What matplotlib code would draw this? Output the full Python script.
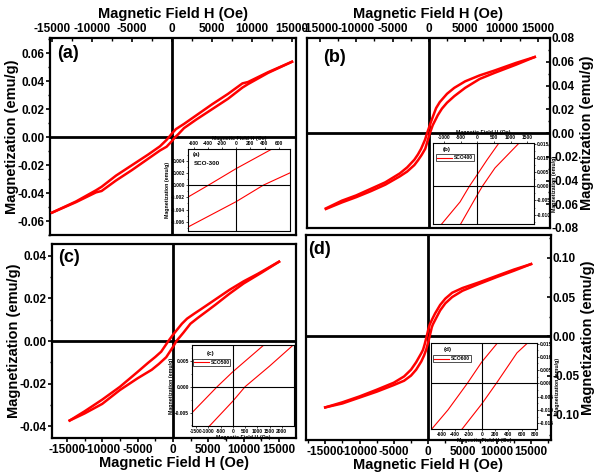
import matplotlib
matplotlib.use("Agg")
import matplotlib.pyplot as plt
from matplotlib.ticker import AutoMinorLocator, FormatStrFormatter

plt.rcParams['font.family'] = ['Liberation Sans', 'DejaVu Sans']
plt.rcParams['font.weight'] = 'bold'
plt.rcParams['axes.labelweight'] = 'bold'
plt.rcParams['axes.unicode_minus'] = False

# --------------------
# Data (H in Oe, M in emu/g)
# --------------------

# (a) SCO-300
h_down_a = [15000, 12000, 9500, 8800, 7000, 5000, 3000, 1500, 490, 0, -390, -672,
            -1500, -3000, -5000, -7000, -8800, -9500, -12000, -15000]
m_down_a = [0.054, 0.0465, 0.0395, 0.0385, 0.031, 0.0235, 0.0155, 0.0095, 0.0058, 0.0027, 0.0, -0.0019,
            -0.0065, -0.0125, -0.020, -0.0275, -0.0355, -0.038, -0.046, -0.054]
h_up_a = [-15000, -12000, -9500, -8800, -7000, -5000, -3000, -1500, -672, 0, 385, 760,
          1500, 3000, 5000, 7000, 8800, 9500, 12000, 15000]
m_up_a = [-0.054, -0.0465, -0.0395, -0.0385, -0.031, -0.0235, -0.0155, -0.0095, -0.0068, -0.0027, 0.0, 0.002,
          0.0065, 0.0125, 0.020, 0.0275, 0.0355, 0.038, 0.046, 0.054]

# (b)
h_down_b = [14600, 12000, 9000, 7000, 5000, 3500, 2500, 1500, 1000, 630, 300, 0, -240, -518,
            -1070, -1500, -2000, -3000, -4000, -6000, -8000, -10000, -12000, -14200]
m_down_b = [0.064, 0.059, 0.0525, 0.0485, 0.0435, 0.038, 0.033, 0.026, 0.021, 0.015, 0.0095, 0.0042, 0.0, -0.0055,
            -0.0133, -0.018, -0.0225, -0.029, -0.034, -0.0415, -0.047, -0.0525, -0.057, -0.0635]
h_up_b = [-14200, -12000, -10000, -8000, -6000, -4000, -3000, -2000, -1500, -1000, -500, 0, 150, 530,
          1230, 1800, 2500, 3500, 5000, 7000, 9000, 12000, 14600]
m_up_b = [-0.064, -0.0585, -0.054, -0.049, -0.0435, -0.0365, -0.0325, -0.027, -0.023, -0.0185, -0.0133, -0.0030, 0.0, 0.0065,
          0.015, 0.0205, 0.0255, 0.031, 0.038, 0.0455, 0.0505, 0.0575, 0.064]

# (c)
h_down_c = [15000, 12000, 10000, 8000, 6000, 4000, 3000, 2000, 1270, 0, -640, -1660,
            -2500, -3500, -5000, -7500, -10000, -12500, -14600]
m_down_c = [0.0372, 0.0315, 0.028, 0.024, 0.0195, 0.015, 0.0128, 0.0105, 0.0081, 0.0029, 0.0, -0.005,
            -0.0075, -0.0102, -0.0145, -0.0215, -0.0275, -0.033, -0.0373]
h_up_c = [-14600, -12500, -10000, -7500, -5000, -3000, -2000, -950, 0, 500, 1500,
          2470, 3500, 5000, 6000, 8000, 10000, 12500, 15000]
m_up_c = [-0.0373, -0.034, -0.0295, -0.023, -0.0175, -0.0135, -0.0108, -0.0076, -0.0028, 0.0, 0.0040,
          0.0081, 0.0108, 0.0145, 0.0170, 0.0222, 0.027, 0.032, 0.0372]

# (d)
h_down_d = [15000, 12500, 10000, 7500, 5000, 3500, 2500, 1750, 1000, 600, 230, 0, -215, -505,
            -745, -1000, -1750, -2500, -3500, -5000, -7500, -10000, -12500, -15000]
m_down_d = [0.092, 0.085, 0.077, 0.069, 0.0615, 0.0555, 0.048, 0.040, 0.029, 0.022, 0.015, 0.008, 0.0, -0.010,
            -0.0171, -0.0215, -0.033, -0.0425, -0.051, -0.059, -0.068, -0.0765, -0.084, -0.0905]
h_up_d = [-15000, -12500, -10000, -7500, -5000, -3500, -2500, -1750, -1000, -600, -290, 0, 220,
          530, 680, 1000, 1750, 2500, 3500, 5000, 7500, 10000, 12500, 15000]
m_up_d = [-0.0905, -0.0855, -0.078, -0.0705, -0.062, -0.0565, -0.050, -0.0425, -0.032, -0.0245, -0.0171, -0.0078, 0.0,
          0.0115, 0.015, 0.0205, 0.033, 0.042, 0.050, 0.058, 0.067, 0.0755, 0.0835, 0.092]

field_ticks = [-15000, -10000, -5000, 0, 5000, 10000, 15000]
m_ticks_a = [-0.06, -0.04, -0.02, 0.0, 0.02, 0.04, 0.06]
m_ticks_b = [-0.08, -0.06, -0.04, -0.02, 0.0, 0.02, 0.04, 0.06, 0.08]
m_ticks_c = [-0.04, -0.02, 0.0, 0.02, 0.04]
m_ticks_d = [-0.10, -0.05, 0.0, 0.05, 0.10]

inset_hticks_a = [-600, -400, -200, 0, 200, 400, 600]
inset_mticks_a = [-0.006, -0.004, -0.002, 0.0, 0.002, 0.004]
inset_hticks_b = [-1000, -500, 0, 500, 1000, 1500]
inset_mticks_b = [-0.010, -0.005, 0.0, 0.005, 0.010, 0.015]
inset_hticks_c = [-1500, -1000, -500, 0, 500, 1000, 1500, 2000]
inset_mticks_c = [-0.005, 0.0, 0.005]
inset_hticks_d = [-600, -400, -200, 0, 200, 400, 600, 800]
inset_mticks_d = [-0.015, -0.010, -0.005, 0.0, 0.005, 0.010, 0.015]

XLAB = "Magnetic Field H (Oe)"
YLAB = "Magnetization (emu/g)"
W, H = 599, 472


def px_rect(left, top, right, bottom):
    return [left / W, 1 - bottom / H, (right - left) / W, (bottom - top) / H]


def main_panel(fig, rect, hd, md, hu, mu, xlim, ylim, yticks, xside, yside, tag, tag_xy):
    ax = fig.add_axes(rect)
    ax.plot(hd, md, color="red", lw=1.8, zorder=3)
    ax.plot(hu, mu, color="red", lw=1.8, zorder=3)
    ax.axhline(0, color="black", lw=2.0, zorder=2)
    ax.axvline(0, color="black", lw=2.0, zorder=2)
    ax.set_xlim(*xlim)
    ax.set_ylim(*ylim)
    ax.set_xticks(field_ticks)
    ax.set_yticks(yticks)
    ax.xaxis.set_major_formatter(FormatStrFormatter("%d"))
    ax.yaxis.set_major_formatter(FormatStrFormatter("%.2f"))
    ax.xaxis.set_minor_locator(AutoMinorLocator(2))
    ax.yaxis.set_minor_locator(AutoMinorLocator(2))
    for s in ax.spines.values():
        s.set_linewidth(1.6)
    ax.tick_params(which="major", length=3, width=1.2, labelsize=8.5, pad=1.5)
    ax.tick_params(which="minor", length=1.8, width=1.0)
    if xside == "top":
        ax.xaxis.tick_top()
        ax.xaxis.set_label_position("top")
        ax.tick_params(axis="x", which="both", direction="in", pad=2.5)
        ax.set_xlabel(XLAB, fontsize=10.5, labelpad=3)
    else:
        ax.set_xlabel(XLAB, fontsize=10.5, labelpad=0)
    if yside == "right":
        ax.yaxis.tick_right()
        ax.yaxis.set_label_position("right")
        ax.tick_params(axis="y", which="both", direction="in", pad=1)
        ax.set_ylabel(YLAB, fontsize=10.5, labelpad=1)
    else:
        ax.tick_params(axis="y", which="both", pad=1)
        ax.set_ylabel(YLAB, fontsize=10.5, labelpad=-1)
    ax.text(tag_xy[0], tag_xy[1], tag, transform=ax.transAxes, fontsize=13,
            fontweight="bold", ha="left", va="center")
    return ax


def inset_panel(fig, rect, hd, md, hu, mu, xlim, ylim, xticks, yticks, xside, yside,
                tag, tag_xy, legend_label=None, legend_xy=None, note=None, note_xy=None):
    ax = fig.add_axes(rect, zorder=5)
    ax.set_facecolor("white")
    ax.plot(hd, md, color="red", lw=0.8, label=legend_label)
    ax.plot(hu, mu, color="red", lw=0.8)
    ax.axhline(0, color="black", lw=0.8)
    ax.axvline(0, color="black", lw=0.8)
    ax.set_xlim(*xlim)
    ax.set_ylim(*ylim)
    ax.set_xticks(xticks)
    ax.set_yticks(yticks)
    ax.xaxis.set_major_formatter(FormatStrFormatter("%d"))
    ax.yaxis.set_major_formatter(FormatStrFormatter("%.3f"))
    ax.yaxis.set_minor_locator(AutoMinorLocator(2))
    for s in ax.spines.values():
        s.set_linewidth(0.8)
    ax.tick_params(which="major", length=1.5, width=0.5, labelsize=3.5, pad=0.8)
    ax.tick_params(which="minor", length=1, width=0.4)
    if xside == "top":
        ax.xaxis.tick_top()
        ax.xaxis.set_label_position("top")
    if yside == "right":
        ax.yaxis.tick_right()
        ax.yaxis.set_label_position("right")
    ax.set_xlabel(XLAB, fontsize=3.8, labelpad=0.5)
    ax.set_ylabel(YLAB, fontsize=3.8, labelpad=0.5)
    ax.text(tag_xy[0], tag_xy[1], tag, transform=ax.transAxes, fontsize=4.5,
            fontweight="bold", ha="left", va="center")
    if note is not None:
        ax.text(note_xy[0], note_xy[1], note, transform=ax.transAxes, fontsize=4.5,
                fontweight="bold", ha="left", va="center")
    if legend_label is not None:
        leg = ax.legend(loc="upper left", bbox_to_anchor=legend_xy, fontsize=3.5,
                        frameon=True, fancybox=False, edgecolor="black",
                        handlelength=3, borderpad=0.2, borderaxespad=0, handletextpad=0.4)
        leg.get_frame().set_linewidth(0.6)
    return ax


def main():
    fig = plt.figure(figsize=(W / 100, H / 100), dpi=100)

    main_panel(fig, px_rect(50, 38, 296, 235), h_down_a, m_down_a, h_up_a, m_up_a,
               (-15250, 15500), (-0.070, 0.071), m_ticks_a, "top", "left",
               "(a)", (0.027, 0.92))
    main_panel(fig, px_rect(307, 38, 550, 228), h_down_b, m_down_b, h_up_b, m_up_b,
               (-16800, 16700), (-0.08, 0.08), m_ticks_b, "top", "right",
               "(b)", (0.066, 0.90))
    main_panel(fig, px_rect(52, 244, 296, 438), h_down_c, m_down_c, h_up_c, m_up_c,
               (-17100, 17400), (-0.0455, 0.0455), m_ticks_c, "bottom", "left",
               "(c)", (0.025, 0.928))
    main_panel(fig, px_rect(306, 235, 551, 440), h_down_d, m_down_d, h_up_d, m_up_d,
               (-17800, 17900), (-0.132, 0.129), m_ticks_d, "bottom", "right",
               "(d)", (0.01, 0.93))

    inset_panel(fig, px_rect(188, 149, 290, 231), h_down_a, m_down_a, h_up_a, m_up_a,
                (-680, 760), (-0.0075, 0.0059), inset_hticks_a, inset_mticks_a, "top", "left",
                "(a)", (0.05, 0.93), note="SCO-300", note_xy=(0.06, 0.826))
    inset_panel(fig, px_rect(433, 143, 534, 224), h_down_b, m_down_b, h_up_b, m_up_b,
                (-1330, 1700), (-0.0133, 0.0153), inset_hticks_b, inset_mticks_b, "top", "right",
                "(b)", (0.10, 0.92), legend_label="SCO400", legend_xy=(0.03, 0.86))
    inset_panel(fig, px_rect(192, 345, 294, 426), h_down_c, m_down_c, h_up_c, m_up_c,
                (-1664, 2500), (-0.0076, 0.0081), inset_hticks_c, inset_mticks_c, "bottom", "left",
                "(c)", (0.14, 0.89), legend_label="SCO500", legend_xy=(0.01, 0.83))
    inset_panel(fig, px_rect(431, 343, 537, 429), h_down_d, m_down_d, h_up_d, m_up_d,
                (-760, 830), (-0.0172, 0.0152), inset_hticks_d, inset_mticks_d, "bottom", "right",
                "(d)", (0.116, 0.93), legend_label="SCO600", legend_xy=(0.02, 0.855))

    fig.savefig("out.png", dpi=100)


if __name__ == "__main__":
    main()
